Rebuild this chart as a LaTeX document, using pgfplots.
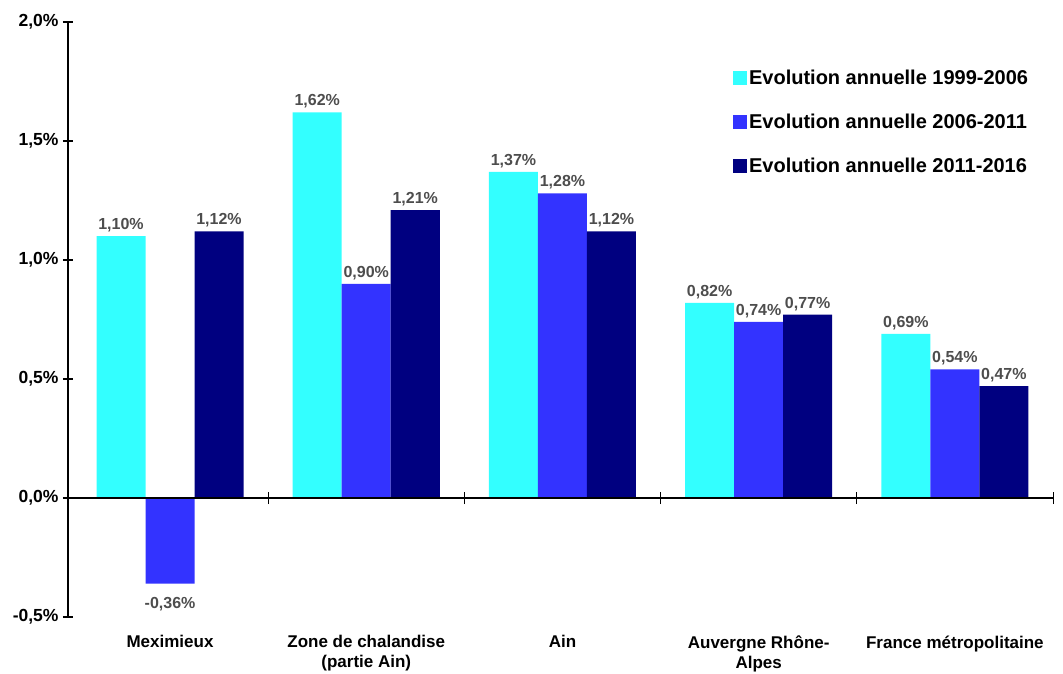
\documentclass[border=0pt]{standalone}
\usepackage{fontspec}
\setmainfont{Liberation Sans}
\usepackage{pgfplots}
\pgfplotsset{compat=1.18}
\definecolor{cA}{HTML}{33FFFF}
\definecolor{cB}{HTML}{3333FF}
\definecolor{cC}{HTML}{000080}
\definecolor{lab}{HTML}{4D4D4D}
\begin{document}
\begin{tikzpicture}[x=1pt,y=1pt]
\useasboundingbox (0,0) rectangle (1063,673);
\begin{axis}[
  at={(68pt,56pt)}, anchor=south west,
  scale only axis, width=985pt, height=595pt,
  xmin=-0.52, xmax=4.5, ymin=-0.5, ymax=2.0,
  axis y line=left, axis x line=bottom,
  x axis line style={draw=none},
  y axis line style={-, line width=1.3pt},
  ytick={-0.5,0,0.5,1,1.5,2},
  yticklabels={{-0,5\%},{0,0\%},{0,5\%},{1,0\%},{1,5\%},{2,0\%}},
  ytick style={line width=1.2pt, black},
  tick align=center, major tick length=10pt,
  y tick label style={font=\fontsize{17.5}{20}\selectfont\bfseries, xshift=-1pt},
  xtick={0,1,2,3,4},
  xtick style={draw=none},
  xticklabels={Meximieux,{Zone de chalandise\\(partie Ain)},Ain,{Auvergne Rhône-\\Alpes},France métropolitaine},
  x tick label style={font=\fontsize{17}{20}\selectfont\bfseries, align=center, anchor=north, yshift=-5pt},
  ybar=0pt, bar width=49pt,
  point meta=explicit symbolic,
  nodes near coords,
  visualization depends on={y \as \rawy},
  every node near coord/.append style={font=\fontsize{16}{19}\selectfont\bfseries, text=lab, inner sep=4pt, anchor=south, yshift={(\rawy<0)*(-31)}},
  legend style={at={(0.675,0.9235)}, anchor=north west, draw=none, fill=none,
    font=\fontsize{20}{22}\selectfont\bfseries, row sep=24pt, inner sep=0pt},
  legend cell align=left,
  legend image code/.code={\fill[#1,draw=none] (0pt,-7pt) rectangle (14pt,7pt);},
  clip=false,
]
\addplot[fill=cA, draw=none] coordinates {(0,1.10) [1,10\%] (1,1.62) [1,62\%] (2,1.37) [1,37\%] (3,0.82) [0,82\%] (4,0.69) [0,69\%]};
\addplot[fill=cB, draw=none] coordinates {(0,-0.36) [-0,36\%] (1,0.90) [0,90\%] (2,1.28) [1,28\%] (3,0.74) [0,74\%] (4,0.54) [0,54\%]};
\addplot[fill=cC, draw=none] coordinates {(0,1.12) [1,12\%] (1,1.21) [1,21\%] (2,1.12) [1,12\%] (3,0.77) [0,77\%] (4,0.47) [0,47\%]};
\legend{Evolution annuelle 1999-2006,Evolution annuelle 2006-2011,Evolution annuelle 2011-2016}
\draw[black, line width=1.3pt] (axis cs:-0.52,0) -- (axis cs:4.5,0);
\pgfplotsinvokeforeach{0.5,1.5,2.5,3.5,4.5}{\draw[black, line width=1pt] (axis cs:#1,0) ++(0pt,-6pt) -- ++(0pt,12pt);}
\end{axis}
\end{tikzpicture}
\end{document}
